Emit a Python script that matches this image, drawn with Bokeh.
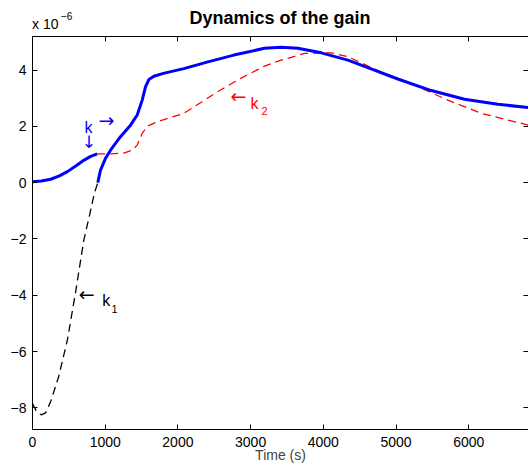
from bokeh.plotting import figure
from bokeh.models import Range1d, LinearAxis, Label, FixedTicker, CustomJSTickFormatter, Div
from bokeh.layouts import column
from bokeh.embed import file_html
from bokeh.resources import INLINE

# ---- data (values in units of 1e-6) ----
# k, first part (blue, solid)
t_k_a = [0, 120, 250, 370, 480, 600, 710, 800, 890]
k_a = [0.03, 0.06, 0.12, 0.24, 0.39, 0.60, 0.80, 0.93, 1.02]
# k, second part (blue, solid)
t_k_b = [898, 935, 1004, 1073, 1210, 1348, 1440, 1509, 1554, 1600, 1669, 1800, 2081,
         2400, 2769, 3191, 3420, 3650, 3971, 4338, 4566, 5025, 5484, 5942, 6400, 6822]
k_b = [0.0, 0.44, 0.86, 1.15, 1.63, 2.04, 2.40, 2.93, 3.40, 3.66, 3.78, 3.88, 4.05,
       4.28, 4.53, 4.77, 4.81, 4.77, 4.61, 4.35, 4.13, 3.68, 3.27, 2.96, 2.78, 2.67]
# k2 (red, dashed)
t_k2 = [890, 1073, 1256, 1371, 1440, 1509, 1578, 1715, 2081, 2540, 2746, 2861, 3191,
        3420, 3741, 4108, 4338, 4796, 5254, 5713, 6171, 6822]
k2 = [1.02, 1.02, 1.05, 1.15, 1.33, 1.75, 2.00, 2.16, 2.46, 3.22, 3.53, 3.70, 4.14,
      4.35, 4.59, 4.61, 4.47, 3.93, 3.46, 2.93, 2.46, 2.04]
# k1 (black, dashed)
t_k1 = [0, 50, 120, 180, 250, 360, 480, 590, 706, 790, 850, 898]
k1 = [-7.85, -8.10, -8.25, -8.18, -7.78, -6.89, -5.59, -3.93, -2.04, -1.10, -0.38, 0.0]

x_ticks = [0, 1000, 2000, 3000, 4000, 5000, 6000]
y_ticks = [-8, -6, -4, -2, 0, 2, 4]

title_text = "Dynamics of the gain"
x_label = "Time (s)"

FONT = "Liberation Sans"
X_MAX = 6822
Y_MIN, Y_MAX = -8.77, 5.19
HEAD = 36

# ---- header (title and exponent) ----
header_html = (
    "<div style=\"position:relative;width:528px;height:%dpx;"
    "font-family:'Liberation Sans',Arial,sans-serif;color:#000;\">"
    "<span style=\"position:absolute;left:32px;top:17px;font-size:14px;line-height:1;"
    "white-space:nowrap;\">x 10</span>"
    "<span style=\"position:absolute;left:61px;top:12px;font-size:10px;line-height:1;"
    "white-space:nowrap;\">\u22126</span>"
    "<span style=\"position:absolute;left:32px;width:496px;top:9px;text-align:center;"
    "font-size:18px;font-weight:bold;line-height:1;white-space:nowrap;\">%s</span>"
    "</div>" % (HEAD, title_text)
)
header = Div(text=header_html, width=528, height=HEAD, margin=0)

p = figure(width=528, height=470 - HEAD, output_backend="svg", toolbar_location=None,
           x_range=Range1d(0, X_MAX), y_range=Range1d(Y_MIN, Y_MAX),
           min_border_left=32, min_border_right=0, min_border_top=0, min_border_bottom=41,
           margin=0)
p.grid.visible = False
p.outline_line_color = None
p.background_fill_color = "white"
p.border_fill_color = "white"

fmt = CustomJSTickFormatter(code="return tick < 0 ? '\\u2212' + Math.abs(tick) : String(tick);")
blank = CustomJSTickFormatter(code="return '';")


def style_axis(ax, ticks, show_labels=True):
    ax.ticker = FixedTicker(ticks=ticks)
    ax.major_tick_in = 5
    ax.major_tick_out = 0
    ax.minor_tick_in = 0
    ax.minor_tick_out = 0
    ax.axis_line_color = "black"
    ax.major_tick_line_color = "black"
    ax.axis_line_width = 1
    ax.major_label_text_font = FONT
    ax.major_label_text_color = "black"
    if show_labels:
        ax.major_label_text_font_size = "14px"
        ax.formatter = fmt
    else:
        ax.major_label_text_font_size = "1px"
        ax.formatter = blank
        ax.major_label_standoff = 0


bx = p.below[0]
style_axis(bx, x_ticks)
bx.major_label_standoff = 7
bx.axis_label = x_label
bx.axis_label_text_font = FONT
bx.axis_label_text_font_size = "14px"
bx.axis_label_text_font_style = "normal"
bx.axis_label_standoff = -3

ly = p.left[0]
style_axis(ly, y_ticks)
ly.major_label_standoff = 6

top = LinearAxis()
style_axis(top, x_ticks, show_labels=False)
p.add_layout(top, "above")

right = LinearAxis()
style_axis(right, y_ticks, show_labels=False)
right.axis_line_color = None
p.add_layout(right, "right")

# ---- curves ----
p.line(t_k1, k1, line_color="black", line_width=1.3, line_dash="8 5")
p.line(t_k2, k2, line_color="#ff0000", line_width=1.3, line_dash="8 5")
p.line(t_k_a, k_a, line_color="#0000ff", line_width=3)
p.line(t_k_b, k_b, line_color="#0000ff", line_width=3)


# ---- annotations ----
def lab(x, y, text, color="black", size="16px", font=FONT, baseline="alphabetic", **kw):
    p.add_layout(Label(x=x, y=y, text=text, text_color=color, text_font=font,
                       text_font_size=size, text_baseline=baseline, **kw))


ARROW_FONT = "DejaVu Sans"
# k ->  and down arrow (blue)
lab(715, 1.97, "k", color="#0000ff")
lab(908, 2.22, "\u2192", color="#0000ff", size="19px", font=ARROW_FONT, baseline="middle")
lab(777, 1.44, "\u2193", color="#0000ff", size="17px", font=ARROW_FONT, baseline="middle",
    text_align="center")
# <- k2 (red)
lab(2723, 3.06, "\u2190", color="#ff0000", size="19px", font=ARROW_FONT, baseline="middle")
lab(2998, 2.80, "k", color="#ff0000")
lab(3149, 2.54, "2", color="#ff0000", size="11px")
# <- k1 (black)
lab(637, -3.94, "\u2190", color="black", size="19px", font=ARROW_FONT, baseline="middle")
lab(959, -4.18, "k", color="black")
lab(1087, -4.50, "1", color="black", size="11px")

layout = column(header, p, spacing=0, margin=0)
open("out.html", "w").write(file_html(layout, INLINE))
